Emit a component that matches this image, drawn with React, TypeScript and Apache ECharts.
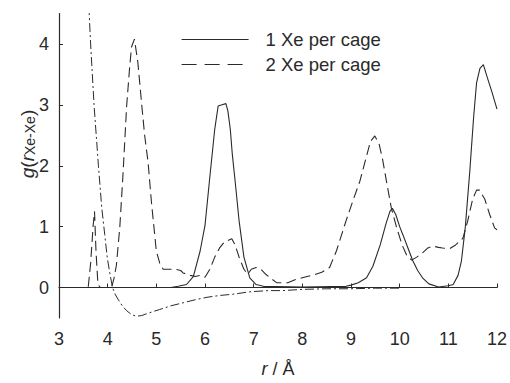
import React, { useEffect, useRef } from "react";
import * as echarts from "echarts";

const rOne = [3.0, 5.3, 5.45, 5.62, 5.76, 5.9, 6.0, 6.1, 6.2, 6.27, 6.35, 6.43, 6.47, 6.52, 6.56, 6.61, 6.7, 6.8, 6.92, 7.05, 7.2, 8.0, 8.9, 9.0, 9.15, 9.32, 9.45, 9.6, 9.72, 9.8, 9.85, 9.92, 10.0, 10.07, 10.17, 10.27, 10.37, 10.47, 10.6, 10.8, 11.0, 11.1, 11.2, 11.27, 11.35, 11.44, 11.52, 11.58, 11.65, 11.72, 11.8, 11.9, 12.0];
const gOne = [0, 0, 0.02, 0.05, 0.18, 0.6, 1.02, 1.82, 2.6, 2.98, 3.0, 3.02, 2.9, 2.6, 2.2, 1.82, 1.1, 0.5, 0.16, 0.05, 0.02, 0.01, 0.02, 0.04, 0.08, 0.16, 0.35, 0.7, 1.05, 1.25, 1.3, 1.2, 1.0, 0.86, 0.65, 0.44, 0.28, 0.16, 0.06, 0.01, 0.03, 0.05, 0.2, 0.44, 1.0, 1.9, 2.8, 3.36, 3.6, 3.66, 3.45, 3.2, 2.93];

const rTwo = [3.0, 3.6, 3.65, 3.7, 3.73, 3.76, 3.8, 3.85, 4.08, 4.13, 4.18, 4.25, 4.31, 4.39, 4.45, 4.49, 4.55, 4.62, 4.7, 4.76, 4.83, 4.9, 5.0, 5.07, 5.14, 5.25, 5.4, 5.5, 5.55, 5.7, 5.8, 5.9, 6.0, 6.1, 6.2, 6.3, 6.4, 6.55, 6.62, 6.7, 6.8, 6.88, 6.95, 7.05, 7.15, 7.26, 7.47, 7.7, 7.85, 8.0, 8.2, 8.4, 8.56, 8.7, 8.9, 9.05, 9.18, 9.3, 9.4, 9.49, 9.58, 9.65, 9.73, 9.83, 9.94, 10.05, 10.15, 10.25, 10.35, 10.47, 10.58, 10.68, 10.8, 10.88, 11.03, 11.15, 11.3, 11.4, 11.5, 11.58, 11.64, 11.75, 11.85, 11.95, 12.0];
const gTwo = [0, 0, 0.4, 1.0, 1.25, 0.6, 0.05, 0, 0, 0.15, 0.37, 1.0, 1.79, 2.98, 3.6, 3.95, 4.08, 3.7, 3.0, 2.5, 2.06, 1.4, 0.6, 0.4, 0.3, 0.3, 0.3, 0.28, 0.24, 0.2, 0.18, 0.2, 0.17, 0.3, 0.5, 0.65, 0.75, 0.8, 0.7, 0.5, 0.3, 0.22, 0.3, 0.33, 0.3, 0.21, 0.08, 0.08, 0.13, 0.16, 0.2, 0.25, 0.33, 0.6, 1.1, 1.45, 1.74, 2.1, 2.4, 2.49, 2.35, 2.1, 1.74, 1.3, 0.98, 0.7, 0.52, 0.45, 0.5, 0.57, 0.65, 0.68, 0.66, 0.65, 0.64, 0.7, 0.81, 1.1, 1.45, 1.6, 1.6, 1.45, 1.2, 0.98, 0.95];

const rPot = [3.6, 3.62, 3.65, 3.72, 3.81, 3.88, 3.94, 3.99, 4.05, 4.1, 4.16, 4.22, 4.3, 4.39, 4.5, 4.6, 4.7, 4.8, 4.95, 5.07, 5.3, 5.55, 5.8, 6.04, 6.3, 6.57, 6.92, 7.3, 7.6, 8.0, 8.5, 9.0, 9.5, 10.0];
const gPot = [4.9, 4.5, 4.0, 3.0, 2.0, 1.3, 0.87, 0.5, 0.21, 0.0, -0.12, -0.2, -0.3, -0.38, -0.45, -0.47, -0.46, -0.43, -0.39, -0.36, -0.3, -0.25, -0.2, -0.16, -0.13, -0.11, -0.07, -0.05, -0.05, -0.03, -0.02, -0.02, -0.01, -0.01];

const xTicks = [3, 4, 5, 6, 7, 8, 9, 10, 11, 12];
const yTicks = [0, 1, 2, 3, 4];
const seriesNames = ["1 Xe per cage", "2 Xe per cage"];

const pairs = (xs: number[], ys: number[]) => xs.map((x, i) => [x, ys[i]]);

const INK = "#2a2a2a";
const FONT = "Liberation Sans, Arial, sans-serif";

export default function App() {
  const ref = useRef<HTMLDivElement>(null);
  useEffect(() => {
    if (!ref.current) return;
    const chart = echarts.init(ref.current, undefined, { renderer: "svg" });
    chart.setOption({
      animation: false,
      backgroundColor: "#ffffff",
      textStyle: { fontFamily: FONT },
      grid: { left: 59, right: 13, top: 13.5, bottom: 62, containLabel: false },
      legend: {
        orient: "vertical",
        left: 181,
        top: 30,
        padding: 0,
        itemWidth: 67,
        itemHeight: 14,
        itemGap: 6,
        data: [
          { name: seriesNames[0], itemStyle: { opacity: 0 }, lineStyle: { type: "solid", width: 1.2, color: INK } },
          { name: seriesNames[1], itemStyle: { opacity: 0 }, lineStyle: { type: [15, 8], width: 1.2, color: INK } },
        ],
        textStyle: { fontSize: 18.5, color: INK, fontFamily: FONT, padding: [0, 0, 0, 12], lineHeight: 18 },
        selectedMode: false,
      },
      xAxis: {
        type: "value",
        min: 3,
        max: 12,
        interval: 1,
        axisLine: { show: true, lineStyle: { color: INK, width: 1.2 } },
        axisTick: { show: true, inside: true, length: 4, lineStyle: { color: INK } },
        axisLabel: { fontSize: 18, color: INK, margin: 12, fontFamily: FONT, customValues: xTicks },
        splitLine: { show: false },
        name: "{i|r} / Å",
        nameLocation: "middle",
        nameGap: 42,
        nameTextStyle: {
          fontSize: 18,
          color: INK,
          fontFamily: FONT,
          rich: { i: { fontStyle: "italic", fontSize: 18, color: INK, fontFamily: FONT } },
        },
      },
      yAxis: {
        type: "value",
        min: -0.5,
        max: 4.5,
        axisLine: { show: true, lineStyle: { color: INK, width: 1.2 } },
        axisTick: { show: true, inside: true, length: 4, lineStyle: { color: INK }, customValues: yTicks },
        axisLabel: { fontSize: 18, color: INK, margin: 10, fontFamily: FONT, customValues: yTicks },
        splitLine: { show: false },
      },
      graphic: [
        {
          type: "text",
          x: 27,
          y: 144,
          rotation: Math.PI / 2,
          style: {
            text: "{i|g}{n|(}{i|r}{s|Xe-Xe}{n|)}",
            align: "center",
            verticalAlign: "middle",
            fill: INK,
            fontFamily: FONT,
            rich: {
              i: { fontStyle: "italic", fontSize: 19, fill: INK, fontFamily: FONT, lineHeight: 22 },
              n: { fontSize: 19, fill: INK, fontFamily: FONT, lineHeight: 22 },
              s: { fontSize: 14, fill: INK, fontFamily: FONT, lineHeight: 22, padding: [6, 0, 0, 0] },
            },
          },
        },
      ],
      series: [
        {
          name: seriesNames[0],
          type: "line",
          data: pairs(rOne, gOne),
          symbol: "none",
          lineStyle: { color: INK, width: 1.1, type: "solid" },
          itemStyle: { color: INK },
          z: 3,
        },
        {
          name: seriesNames[1],
          type: "line",
          data: pairs(rTwo, gTwo),
          symbol: "none",
          lineStyle: { color: INK, width: 1.1, type: [10, 5] },
          itemStyle: { color: INK },
          z: 2,
        },
        {
          name: "potential",
          type: "line",
          data: pairs(rPot, gPot),
          symbol: "none",
          lineStyle: { color: INK, width: 1, type: [9, 3, 2, 3] },
          itemStyle: { color: INK },
          z: 1,
        },
      ],
    });
    return () => chart.dispose();
  }, []);
  return <div ref={ref} style={{ width: 510, height: 383, position: "absolute", left: 0, top: 0 }} />;
}
